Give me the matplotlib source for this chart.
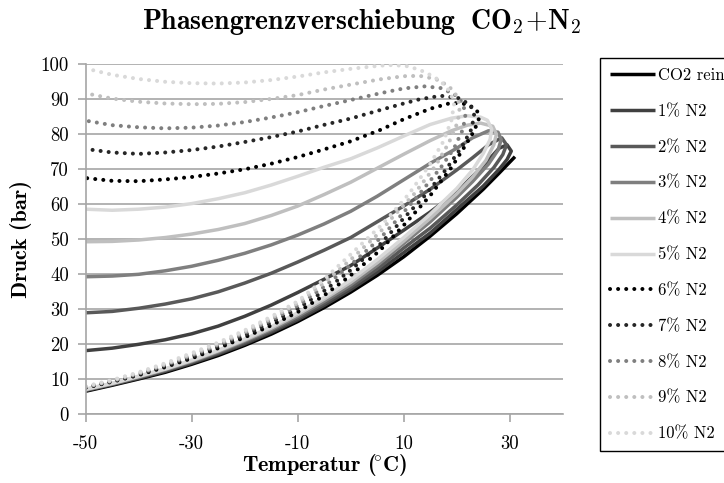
import numpy as np
import matplotlib
matplotlib.use("Agg")
import matplotlib.pyplot as plt

plt.rcParams['font.family'] = ['cmr10', 'DejaVu Serif']
plt.rcParams['mathtext.fontset'] = 'cm'
plt.rcParams['axes.unicode_minus'] = False

# phase envelopes: dew branch from -50 up to the nose, then bubble branch back to -50
t_co2 = [-50, -45, -40, -35, -30, -25, -20, -15, -10, -5, 0, 5, 10, 15, 20, 25, 28, 31]
p_co2 = [6.6, 8.3, 10.1, 12.0, 14.3, 16.8, 19.7, 22.9, 26.5, 30.5, 34.9, 39.7, 45.0, 50.9, 57.3, 64.3, 68.9, 73.6]

t_n2_1 = [-50, -45, -40, -35, -30, -25, -20, -15, -10, -5, 0, 5, 10, 15, 20, 25, 28, 29.5, 30.3,
          29.5, 28, 25, 20, 15, 10, 5.5, 0, -5, -10, -15, -20, -25, -30, -35, -40, -45, -50]
p_n2_1 = [6.8, 8.5, 10.3, 12.3, 14.6, 17.2, 20.1, 23.4, 27.0, 31.1, 35.6, 40.6, 46.2, 51.8, 58.5, 65.2, 70.0, 72.8, 75.2,
          77.0, 76.0, 71.0, 63.5, 57.8, 52.6, 48.0, 42.5, 38.6, 34.8, 31.2, 28.0, 25.2, 23.0, 21.3, 20.0, 18.9, 18.2]

t_n2_2 = [-50, -45, -40, -35, -30, -25, -20, -15, -10, -5, 0, 5, 10, 15, 20, 24, 27, 28.7, 29.4,
          28.5, 26, 23, 20, 15, 10, 5, 0, -5, -10, -15, -20, -25, -30, -35, -40, -45, -50]
p_n2_2 = [6.9, 8.6, 10.5, 12.5, 14.9, 17.5, 20.5, 23.8, 27.5, 31.7, 36.3, 41.5, 47.5, 53.2, 59.8, 65.5, 70.5, 74.2, 77.0,
          79.0, 77.0, 73.3, 69.8, 64.3, 59.5, 55.0, 50.5, 46.9, 43.5, 40.3, 37.5, 35.0, 33.0, 31.5, 30.3, 29.4, 29.0]

t_n2_3 = [-50, -45, -40, -35, -30, -25, -20, -15, -10, -5, 0, 5, 10, 15, 20, 23, 26, 27.8, 28.4,
          27.8, 26, 23, 20, 15, 10, 5, 0, -5, -10, -15, -20, -25, -30, -35, -40, -45, -50]
p_n2_3 = [7.0, 8.7, 10.6, 12.7, 15.1, 17.8, 20.9, 24.2, 28.0, 32.3, 37.0, 42.5, 48.8, 55.0, 62.0, 66.5, 71.5, 75.5, 78.5,
          80.6, 81.0, 79.0, 76.0, 71.7, 67.0, 62.3, 58.0, 54.4, 51.2, 48.4, 46.0, 44.0, 42.3, 41.0, 40.0, 39.5, 39.3]

t_n2_4 = [-50, -45, -40, -35, -30, -25, -20, -15, -10, -5, 0, 5, 10, 15, 20, 23, 25.5, 27, 27.5,
          26.8, 24.5, 22, 19, 15, 10, 5, 0, -5, -10, -15, -20, -25, -30, -35, -40, -45, -50]
p_n2_4 = [7.1, 8.8, 10.8, 12.9, 15.3, 18.1, 21.2, 24.6, 28.5, 32.9, 37.7, 43.3, 49.5, 56.0, 63.0, 67.8, 72.5, 77.0, 80.0,
          82.3, 83.2, 82.6, 81.0, 78.2, 74.3, 70.3, 66.3, 62.8, 59.5, 56.8, 54.5, 52.8, 51.5, 50.5, 49.8, 49.4, 49.3]

t_n2_5 = [-50, -45, -40, -35, -30, -25, -20, -15, -10, -5, 0, 5, 10, 15, 20, 23, 25, 26.3, 26.6,
          25.8, 24.5, 22, 19, 15, 10, 5, 0, -5, -10, -15, -20, -25, -30, -35, -40, -45, -50]
p_n2_5 = [7.2, 8.9, 10.9, 13.0, 15.5, 18.3, 21.5, 25.0, 29.0, 33.4, 38.4, 44.2, 50.5, 57.2, 64.5, 69.8, 74.5, 78.5, 81.5,
          84.0, 84.9, 85.3, 84.6, 82.8, 79.5, 76.1, 73.0, 70.6, 68.0, 65.5, 63.3, 61.6, 60.2, 59.2, 58.6, 58.3, 58.6]

t_n2_6 = [-50, -45, -40, -35, -30, -25, -20, -15, -10, -5, 0, 5.5, 10, 15, 19, 21.5, 23.3, 24.2,
          23.8, 22, 19, 15, 10, 5.5, 0, -5, -10, -15, -20, -25, -30, -35, -40, -45, -50]
p_n2_6 = [7.6, 9.3, 11.2, 13.5, 16.0, 18.9, 22.0, 25.4, 29.2, 34.0, 39.7, 46.8, 54.0, 62.5, 70.5, 76.5, 81.0, 84.5,
          87.0, 88.6, 89.0, 87.3, 84.3, 81.2, 78.0, 75.7, 73.5, 71.6, 70.0, 68.8, 67.8, 67.1, 66.6, 66.7, 67.5]

t_n2_7 = [-50, -45, -40, -35, -30, -25, -20, -15, -10, -5, 0, 5.5, 10, 14, 18, 21, 22.8, 23.3,
          22.6, 20.5, 17, 13, 10, 5.5, 0, -5, -10, -15, -20, -25, -30, -35, -40, -45, -50]
p_n2_7 = [7.7, 9.4, 11.4, 13.8, 16.4, 19.4, 22.6, 26.2, 30.2, 35.3, 41.2, 48.5, 56.0, 62.5, 70.0, 76.5, 81.5, 85.5,
          88.3, 90.3, 91.0, 90.0, 88.8, 86.9, 84.5, 82.7, 80.8, 79.2, 77.8, 76.5, 75.5, 74.8, 74.4, 74.8, 75.8]

t_n2_8 = [-50, -45, -40, -35, -30, -25, -20, -15, -10, -5, 0, 5.5, 9, 13, 17, 19.5, 21.2, 21.7,
          21.0, 19.5, 17, 14, 10, 5.5, 0, -5, -10, -15, -20, -25, -30, -35, -40, -45, -50]
p_n2_8 = [7.8, 9.5, 11.6, 14.1, 16.8, 19.8, 23.2, 26.9, 31.0, 36.5, 42.7, 50.2, 56.0, 63.0, 70.5, 76.0, 81.5, 86.0,
          89.2, 91.5, 93.2, 93.7, 93.1, 91.7, 89.8, 88.1, 86.3, 84.8, 83.5, 82.5, 81.9, 81.7, 82.0, 82.6, 83.9]

t_n2_9 = [-50, -45, -40, -35, -30, -25, -20, -15, -10, -5, 0, 5.5, 8, 12, 16, 18.5, 20.2, 20.6,
          20.0, 18.5, 16, 13, 10, 5.5, 0, -5, -10, -15, -20, -25, -30, -35, -40, -45, -50]
p_n2_9 = [7.9, 9.7, 11.8, 14.3, 17.1, 20.1, 23.6, 27.4, 31.7, 37.6, 44.2, 52.0, 56.5, 63.0, 71.0, 77.5, 83.5, 88.0,
          91.0, 93.8, 95.8, 96.7, 96.6, 95.7, 94.2, 92.8, 91.2, 90.1, 89.2, 88.7, 88.6, 88.8, 89.3, 90.2, 91.7]

t_n2_10 = [-50, -45, -40, -35, -30, -25, -20, -15, -10, -5, 0, 5.5, 7, 11, 15, 17.5, 19, 19.5,
           18.8, 17, 14, 11, 8, 5.5, 0, -5, -10, -15, -20, -25, -30, -35, -40, -45, -50]
p_n2_10 = [8.0, 9.8, 12.0, 14.6, 17.5, 20.5, 24.0, 27.9, 32.3, 38.6, 45.7, 53.6, 56.0, 63.0, 71.5, 78.0, 84.0, 88.5,
           92.0, 95.2, 97.8, 99.4, 99.8, 99.6, 98.7, 97.7, 96.5, 95.5, 94.8, 94.5, 94.6, 95.0, 95.8, 97.0, 98.8]

labels = ["CO2 rein", "1% N2", "2% N2", "3% N2", "4% N2", "5% N2",
          "6% N2", "7% N2", "8% N2", "9% N2", "10% N2"]
temps = [t_co2, t_n2_1, t_n2_2, t_n2_3, t_n2_4, t_n2_5, t_n2_6, t_n2_7, t_n2_8, t_n2_9, t_n2_10]
press = [p_co2, p_n2_1, p_n2_2, p_n2_3, p_n2_4, p_n2_5, p_n2_6, p_n2_7, p_n2_8, p_n2_9, p_n2_10]
colors = ["#000000", "#404040", "#595959", "#7f7f7f", "#bfbfbf", "#d9d9d9",
          "#000000", "#262626", "#7f7f7f", "#bfbfbf", "#d9d9d9"]

fig = plt.figure(figsize=(7.24, 4.83), dpi=100)
ax = fig.add_axes([0.1184, 0.1422, 0.6588, 0.7247])

for i in range(len(labels)):
    if i <= 5:
        ax.plot(temps[i], press[i], color=colors[i], lw=2.5, label=labels[i],
                solid_capstyle='butt', solid_joinstyle='round')
    else:
        ax.plot(temps[i], press[i], color=colors[i], lw=2.9, label=labels[i],
                linestyle=(0, (0.01, 2.0)), dash_capstyle='round')

ax.set_xlim(-50, 40)
ax.set_ylim(0, 100)
ax.set_xticks([-50, -30, -10, 10, 30])
ax.set_xticklabels(["-50", "-30", "-10", "10", "30"])
ax.set_yticks(np.arange(0, 101, 10))
ax.yaxis.grid(True, color="#a6a6a6", lw=1.2)
ax.set_axisbelow(True)
for s in ["top", "right"]:
    ax.spines[s].set_visible(False)
for s in ["left", "bottom"]:
    ax.spines[s].set_color("#a6a6a6")
    ax.spines[s].set_linewidth(1.2)
ax.tick_params(axis="x", direction="out", length=6, width=1.2, color="#a6a6a6",
               labelsize=13.5, pad=9)
ax.tick_params(axis="y", direction="out", length=6, width=1.2, color="#a6a6a6",
               labelsize=13.5, pad=6)

ax.set_xlabel("Temperatur ($\\!^{\\circ}$C)", fontsize=16, family="cmb10", labelpad=-1)
ax.set_ylabel("Druck (bar)", fontsize=16, family="cmb10", labelpad=6)
fig.text(0.5, 0.954, r"$\mathbf{Phasengrenzverschiebung\ \ CO_2\!+\!N_2}$",
         ha="center", va="center", fontsize=20)

leg = ax.legend(loc="upper left", bbox_to_anchor=(0.8287, 0.880), bbox_transform=fig.transFigure,
                borderaxespad=0, fontsize=12, frameon=True, fancybox=False,
                edgecolor="black", framealpha=1, handlelength=2.7, handletextpad=0.2,
                labelspacing=1.23, borderpad=0.6)
leg.get_frame().set_linewidth(1.0)

fig.savefig("out.png", dpi=100)
